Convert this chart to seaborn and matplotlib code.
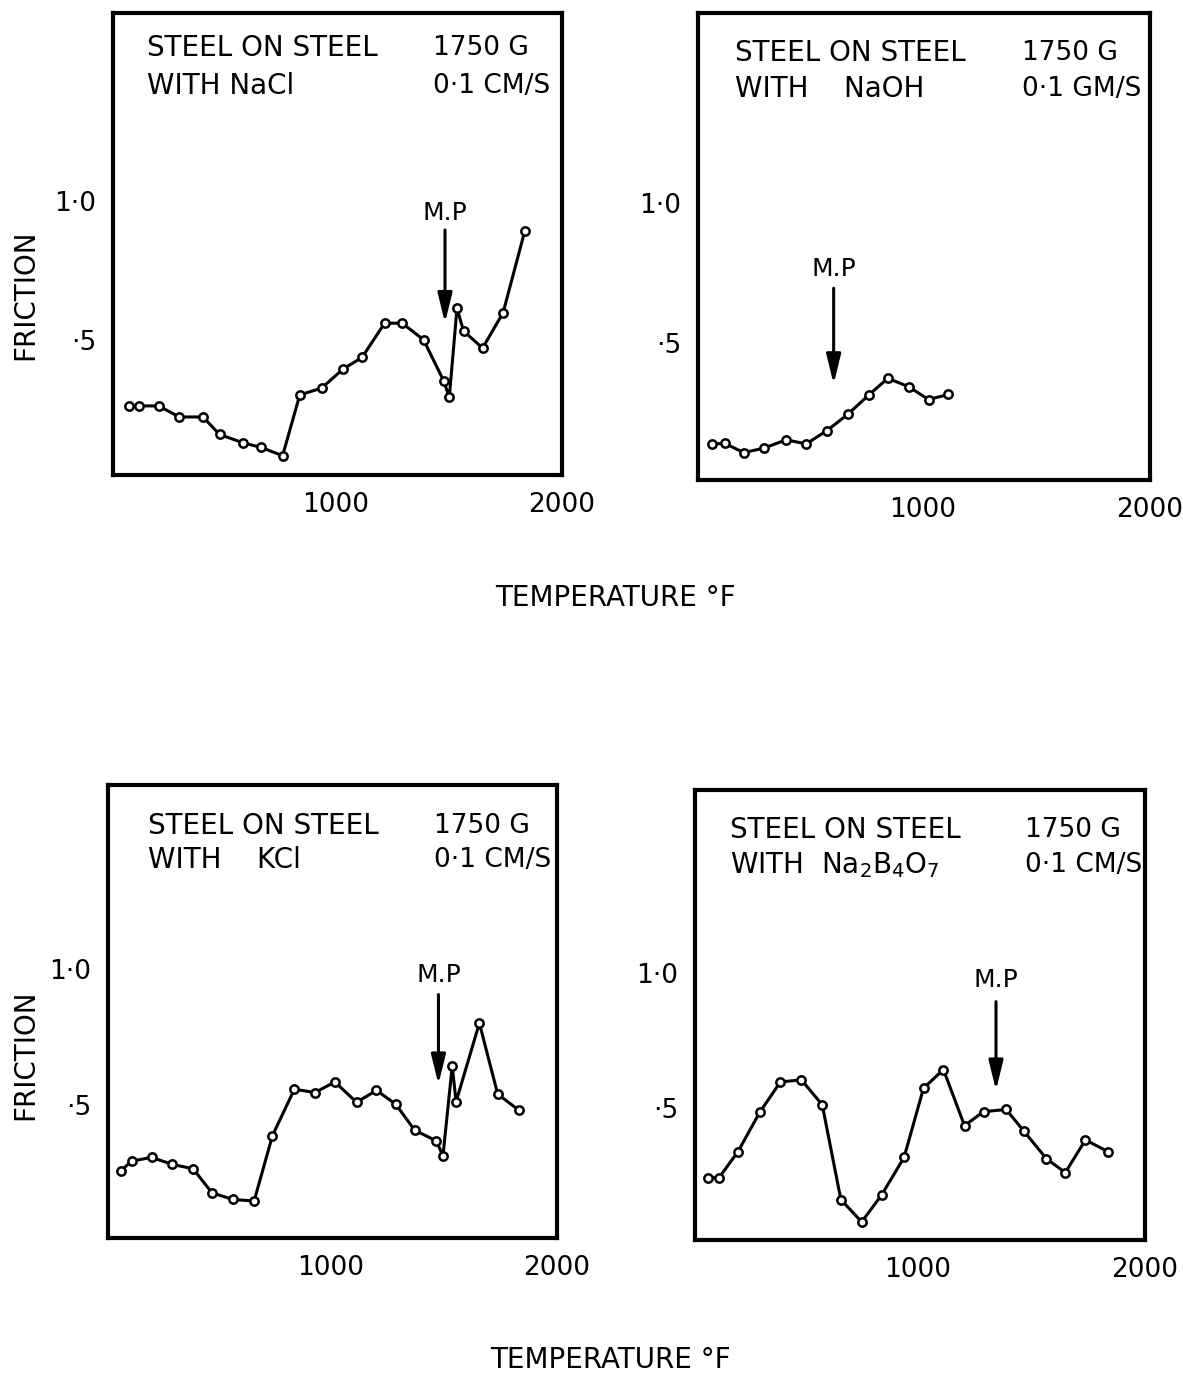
import matplotlib
matplotlib.use("Agg")
import matplotlib.pyplot as plt
import seaborn as sns
import pandas as pd

# ---------------- data ----------------
nacl_temp = [85, 129, 217, 308, 413, 486, 592, 670, 765, 841, 937, 1032, 1116, 1216,
             1294, 1388, 1477, 1502, 1536, 1565, 1649, 1740, 1836]
nacl_fric = [0.26, 0.26, 0.26, 0.22, 0.22, 0.157, 0.126, 0.11, 0.08, 0.30, 0.324, 0.393,
             0.435, 0.559, 0.559, 0.499, 0.351, 0.291, 0.613, 0.531, 0.469, 0.597, 0.893]

naoh_temp = [78, 133, 216, 304, 403, 490, 582, 673, 765, 849, 940, 1028, 1115]
naoh_fric = [0.139, 0.141, 0.108, 0.124, 0.154, 0.139, 0.187, 0.245, 0.314, 0.374,
             0.344, 0.298, 0.316]

kcl_temp = [71, 119, 208, 299, 391, 475, 566, 661, 742, 839, 930, 1018, 1114, 1202,
            1287, 1371, 1466, 1496, 1537, 1554, 1657, 1738, 1833]
kcl_fric = [0.257, 0.293, 0.307, 0.281, 0.265, 0.176, 0.152, 0.146, 0.387, 0.558, 0.546,
            0.585, 0.510, 0.554, 0.503, 0.407, 0.368, 0.313, 0.644, 0.512, 0.802, 0.540,
            0.480]

borax_temp = [72, 121, 205, 301, 392, 485, 577, 659, 751, 839, 938, 1024, 1112, 1205,
              1289, 1389, 1466, 1566, 1650, 1739, 1838]
borax_fric = [0.241, 0.241, 0.338, 0.484, 0.596, 0.604, 0.511, 0.160, 0.077, 0.177,
              0.316, 0.573, 0.642, 0.434, 0.486, 0.494, 0.415, 0.312, 0.260, 0.381, 0.338]

# melting point markers: temperature, arrow tail, arrow tip, label height
mp_temp = [1483, 611, 1476, 1344]
mp_tail = [0.896, 0.696, 0.907, 0.894]
mp_tip = [0.56, 0.353, 0.576, 0.565]
mp_label = [0.957, 0.765, 0.979, 0.973]

lubricants = ["WITH NaCl", "WITH    NaOH", "WITH    KCl", r"WITH  Na$_2$B$_4$O$_7$"]
speeds = ["0·1 CM/S", "0·1 GM/S", "0·1 CM/S", "0·1 CM/S"]

x_ticks = [500, 1000, 1500, 2000]
x_ticklabels = ["", "1000", "", "2000"]
y_ticks = [0.5, 1.0]
y_ticklabels = ["·5", "1·0"]

# ---------------- style ----------------
sns.set_style("white")
plt.rcParams["font.family"] = ["DejaVu Sans"]
plt.rcParams["mathtext.default"] = "regular"
plt.rcParams["text.color"] = "black"
plt.rcParams["axes.labelcolor"] = "black"
plt.rcParams["xtick.color"] = "black"
plt.rcParams["ytick.color"] = "black"

fig = plt.figure(figsize=(11.83, 13.77), dpi=100)

positions = [
    [0.0955, 0.655, 0.3795, 0.3355],
    [0.590, 0.6514, 0.382, 0.339],
    [0.0913, 0.101, 0.3795, 0.329],
    [0.5875, 0.0995, 0.380, 0.327],
]
# (left column x, right column x, line 1 y, line 2 y) in axes fraction
text_pos = [
    (0.076, 0.712, 0.925, 0.842),
    (0.082, 0.716, 0.914, 0.838),
    (0.089, 0.726, 0.909, 0.834),
    (0.078, 0.733, 0.911, 0.833),
]

series = [(nacl_temp, nacl_fric), (naoh_temp, naoh_fric),
          (kcl_temp, kcl_fric), (borax_temp, borax_fric)]

fs = 19
for i, (t, f) in enumerate(series):
    ax = fig.add_axes(positions[i])
    df = pd.DataFrame({"T": t, "F": f})
    sns.lineplot(data=df, x="T", y="F", ax=ax, sort=False, estimator=None,
                 color="black", linewidth=2.2, marker="o", markersize=6,
                 markerfacecolor="white", markeredgecolor="black",
                 markeredgewidth=1.8)
    ax.set_xlim(15, 2000)
    ax.set_ylim(0.01, 1.68)
    ax.set_xlabel("")
    ax.set_ylabel("")
    ax.set_xticks(x_ticks)
    ax.set_xticklabels(x_ticklabels, fontsize=fs)
    ax.set_yticks(y_ticks)
    ax.set_yticklabels(y_ticklabels, fontsize=fs)
    ax.tick_params(axis="both", direction="in", length=11, width=2.5,
                   colors="black", pad=12)
    for sp in ax.spines.values():
        sp.set_visible(True)
        sp.set_linewidth(3)
        sp.set_color("black")

    xl, xr, y1, y2 = text_pos[i]
    ax.text(xl, y1, "STEEL ON STEEL", transform=ax.transAxes, fontsize=fs + 1,
            ha="left", va="center")
    ax.text(xl, y2, lubricants[i], transform=ax.transAxes, fontsize=fs + 1,
            ha="left", va="center")
    ax.text(xr, y1, "1750 G", transform=ax.transAxes, fontsize=fs,
            ha="left", va="center")
    ax.text(xr, y2, speeds[i], transform=ax.transAxes, fontsize=fs,
            ha="left", va="center")

    ax.annotate("", xy=(mp_temp[i], mp_tip[i]), xytext=(mp_temp[i], mp_tail[i]),
                arrowprops=dict(arrowstyle="-|>,head_length=0.9,head_width=0.22",
                                color="black", lw=2.2, mutation_scale=20,
                                shrinkA=0, shrinkB=0))
    ax.text(mp_temp[i], mp_label[i], "M.P", fontsize=fs - 1, ha="center",
            va="center")

fig.text(25 / 1183, 1 - 295 / 1377, "FRICTION", fontsize=fs + 1, rotation=90,
         ha="center", va="center")
fig.text(25 / 1183, 1 - 1055 / 1377, "FRICTION", fontsize=fs + 1, rotation=90,
         ha="center", va="center")
fig.text(0.52, 1 - 598 / 1377, "TEMPERATURE °F", fontsize=fs + 1, ha="center",
         va="center")
fig.text(0.516, 1 - 1360 / 1377, "TEMPERATURE °F", fontsize=fs + 1, ha="center",
         va="center")

fig.savefig("out.png", dpi=100, facecolor="white")
